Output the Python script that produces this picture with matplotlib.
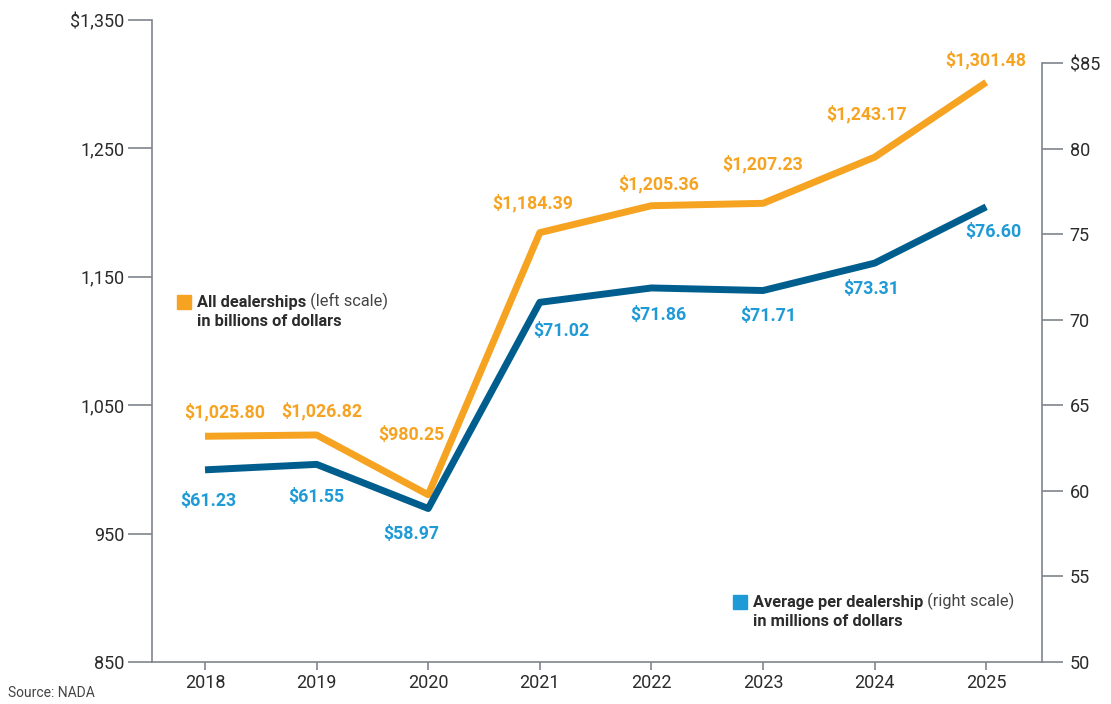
import matplotlib.pyplot as plt

# datos
years = [2018, 2019, 2020, 2021, 2022, 2023, 2024, 2025]
total_sales = [1025.80, 1026.82, 980.25, 1184.39, 1205.36, 1207.23, 1243.17, 1301.48]  # billions
avg_sales = [61.23, 61.55, 58.97, 71.02, 71.86, 71.71, 73.31, 76.60]  # millions

left_ticks = [850, 950, 1050, 1150, 1250, 1350]
left_labels = ['850', '950', '1,050', '1,150', '1,250', '$1,350']
right_ticks = [50, 55, 60, 65, 70, 75, 80, 85]
right_labels = ['50', '55', '60', '65', '70', '75', '80', '$85']

# label offsets in pixels (dx, dy), purely for placement
orange_off = [(20, 24), (5, 24), (-17, 60), (-7, 29), (7, 22), (0, 39), (-8, 43), (0, 22)]
blue_off = [(3, -31), (0, -33), (-17, -25), (22, -29), (7, -27), (5, -25), (-3, -26), (7, -25)]

ORANGE = '#F6A321'
DARKBLUE = '#005E8E'
LIGHTBLUE = '#1E9AD6'
GRAY = '#7f858c'
TXT = '#2b2b2b'

plt.rcParams['font.family'] = ['Roboto', 'DejaVu Sans']

fig = plt.figure(figsize=(11.11, 7.04), dpi=100)
ax = fig.add_axes([152/1111, 42/704, 890/1111, 642/704])
ax2 = ax.twinx()

ax.plot(years, total_sales, color=ORANGE, lw=5, solid_capstyle='butt', zorder=3)
ax2.plot(years, avg_sales, color=DARKBLUE, lw=5, solid_capstyle='butt', zorder=3)

ax.set_xlim(2017.525, 2025.5)
ax.set_ylim(850, 1350)
ax2.set_ylim(50, 87.52)

for a in (ax, ax2):
    for s in a.spines.values():
        s.set_color(GRAY)
        s.set_linewidth(1.2)
    a.spines['top'].set_visible(False)
ax2.spines['left'].set_visible(False)
ax2.spines['bottom'].set_visible(False)
ax.spines['right'].set_visible(False)
ax2.spines['right'].set_bounds(50, 85)

ax.set_yticks(left_ticks)
ax.set_yticklabels(left_labels)
ax2.set_yticks(right_ticks)
ax2.set_yticklabels(right_labels)
ax.set_xticks(years)

ax.tick_params(axis='y', length=17, width=1.2, color=GRAY, labelsize=13, labelcolor=TXT, pad=3)
ax2.tick_params(axis='y', length=15, width=1.2, color=GRAY, labelsize=13, labelcolor=TXT, pad=5)
ax.tick_params(axis='x', length=6, width=1.2, color=GRAY, labelsize=13, labelcolor=TXT, pad=3)

# etiquetas de valores
px = 72 / fig.dpi
for i in range(len(years)):
    dx, dy = orange_off[i]
    ax.annotate('${:,.2f}'.format(total_sales[i]), (years[i], total_sales[i]),
                xytext=(dx*px, dy*px), textcoords='offset points', ha='center', va='center',
                color=ORANGE, fontsize=12.8, fontweight='bold')
    dx, dy = blue_off[i]
    ax2.annotate('${:,.2f}'.format(avg_sales[i]), (years[i], avg_sales[i]),
                 xytext=(dx*px, dy*px), textcoords='offset points', ha='center', va='center',
                 color=LIGHTBLUE, fontsize=12.8, fontweight='bold')

# leyendas dentro del grafico
def legend_note(x, y, color, bold1, reg1, bold2):
    fig.patches.append(plt.Rectangle((x/1111, 1 - (y+7)/704), 14/1111, 14/704,
                                     transform=fig.transFigure, color=color, figure=fig))
    t1 = fig.text((x+20)/1111, 1 - y/704, bold1, fontsize=11.8, fontweight='bold',
                  color=TXT, va='center')
    ax.annotate(reg1, xy=(1, 0), xycoords=t1, va='bottom', fontsize=11.8,
                color='#444444')
    fig.text((x+20)/1111, 1 - (y+20)/704, bold2, fontsize=11.8, fontweight='bold',
             color=TXT, va='center')

legend_note(177, 302, ORANGE, 'All dealerships', ' (left scale)', 'in billions of dollars')
legend_note(733, 602, LIGHTBLUE, 'Average per dealership', ' (right scale)', 'in millions of dollars')

fig.text(8/1111, 1 - 693/704, 'Source: NADA', fontsize=10, color='#444444', va='center')

plt.savefig('out.png', dpi=100)
